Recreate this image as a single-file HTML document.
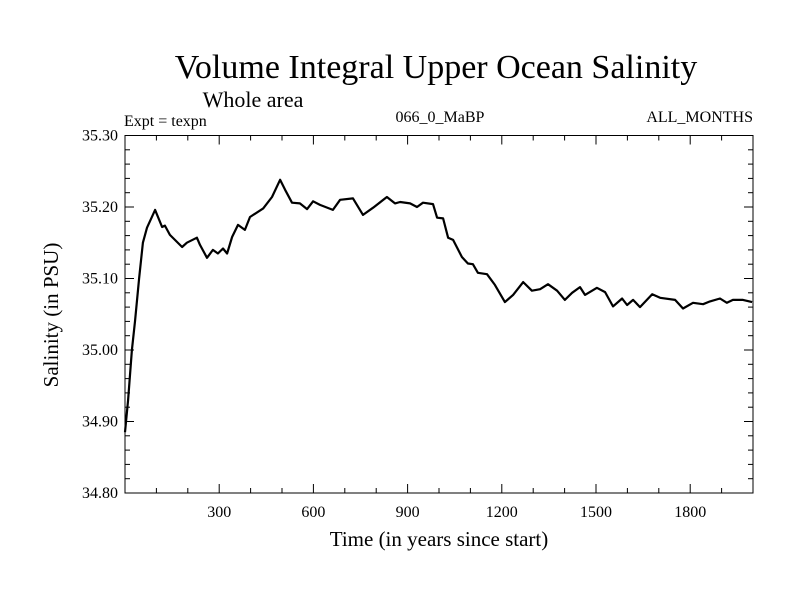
<!DOCTYPE html>
<html><head><meta charset="utf-8"><style>
body{margin:0;background:#fff}
svg{display:block;font-family:"Liberation Serif",serif}
</style></head><body>
<svg id="chart" width="800" height="600">
<text x="436" y="78" font-size="34" text-anchor="middle">Volume Integral Upper Ocean Salinity</text>
<text x="253" y="107" font-size="22" text-anchor="middle">Whole area</text>
<text x="124" y="126" font-size="16">Expt = texpn</text>
<text x="440" y="122" font-size="16" text-anchor="middle">066_0_MaBP</text>
<text x="753" y="122" font-size="16" text-anchor="end">ALL_MONTHS</text>
<text transform="translate(58,315) rotate(-90)" font-size="21" text-anchor="middle">Salinity (in PSU)</text>
<text x="439" y="546" font-size="21" text-anchor="middle">Time (in years since start)</text>
<g id="axes"></g>
<path id="line" fill="none" stroke="#000" stroke-width="2.2" stroke-linejoin="round"/>
<rect x="125" y="135.5" width="628" height="357.5" fill="none" stroke="#000" stroke-width="1"/>
</svg>
<script>
const years=[0,10,22,32,45,57,70,96,118,127,143,182,197,229,239,261,280,296,312,325,341,360,382,398,440,468,494,510,532,557,580,599,621,662,685,726,758,790,834,860,876,908,930,949,981,994,1013,1029,1045,1073,1092,1108,1124,1153,1178,1210,1236,1268,1296,1322,1347,1376,1401,1424,1449,1465,1503,1529,1554,1583,1599,1618,1640,1679,1704,1752,1777,1809,1841,1863,1895,1917,1936,1968,1997];
const salinity=[34.885,34.93,35.0,35.04,35.10,35.15,35.171,35.196,35.172,35.174,35.161,35.144,35.15,35.157,35.147,35.129,35.14,35.135,35.142,35.135,35.158,35.175,35.168,35.186,35.198,35.214,35.238,35.224,35.206,35.205,35.197,35.208,35.203,35.196,35.21,35.212,35.189,35.199,35.214,35.205,35.207,35.205,35.2,35.206,35.204,35.185,35.184,35.157,35.154,35.13,35.121,35.12,35.108,35.106,35.091,35.067,35.077,35.095,35.083,35.085,35.092,35.083,35.07,35.08,35.088,35.077,35.087,35.081,35.061,35.072,35.063,35.07,35.06,35.078,35.073,35.07,35.058,35.066,35.064,35.068,35.072,35.066,35.07,35.07,35.067];
const xTicks=[300,600,900,1200,1500,1800];
const yTicks=["34.80","34.90","35.00","35.10","35.20","35.30"];
const X0=125,X1=753,Y0=493,Y1=135.5,XMIN=0,XMAX=2000,YMIN=34.8,YMAX=35.3;
const sx=v=>X0+(v-XMIN)/(XMAX-XMIN)*(X1-X0);
const sy=v=>Y0-(v-YMIN)/(YMAX-YMIN)*(Y0-Y1);
const ns="http://www.w3.org/2000/svg";
const g=document.getElementById('axes');
function ln(x1,y1,x2,y2,name){const l=document.createElementNS(ns,'line');l.setAttribute('x1',x1);l.setAttribute('y1',y1);l.setAttribute('x2',x2);l.setAttribute('y2',y2);l.setAttribute('stroke','#000');l.setAttribute('stroke-width','1');


g.appendChild(l);}
for(let v=100;v<2000;v+=100){const x=sx(v);const L=(v%300===0)?9:5;ln(x,Y0,x,Y0-L,'x-tick');ln(x,Y1,x,Y1+L,'x-tick');}
for(let i=1;i<25;i++){const v=34.8+i*0.02;const y=sy(v);const L=(i%5===0)?9:5;ln(X0,y,X0+L,y,'y-tick');ln(X1,y,X1-L,y,'y-tick');}
xTicks.forEach(v=>{const t=document.createElementNS(ns,'text');t.setAttribute('x',sx(v));t.setAttribute('y',Y0+24);t.setAttribute('font-size','16');t.setAttribute('text-anchor','middle');t.textContent=v;


g.appendChild(t);});
yTicks.forEach(s=>{const t=document.createElementNS(ns,'text');t.setAttribute('x',X0-7);t.setAttribute('y',sy(parseFloat(s))+5);t.setAttribute('font-size','16');t.setAttribute('text-anchor','end');t.textContent=s;


g.appendChild(t);});
document.getElementById('line').setAttribute('d',years.map((y,i)=>(i?'L':'M')+sx(y).toFixed(1)+' '+sy(salinity[i]).toFixed(1)).join(''));
</script>
</body></html>
